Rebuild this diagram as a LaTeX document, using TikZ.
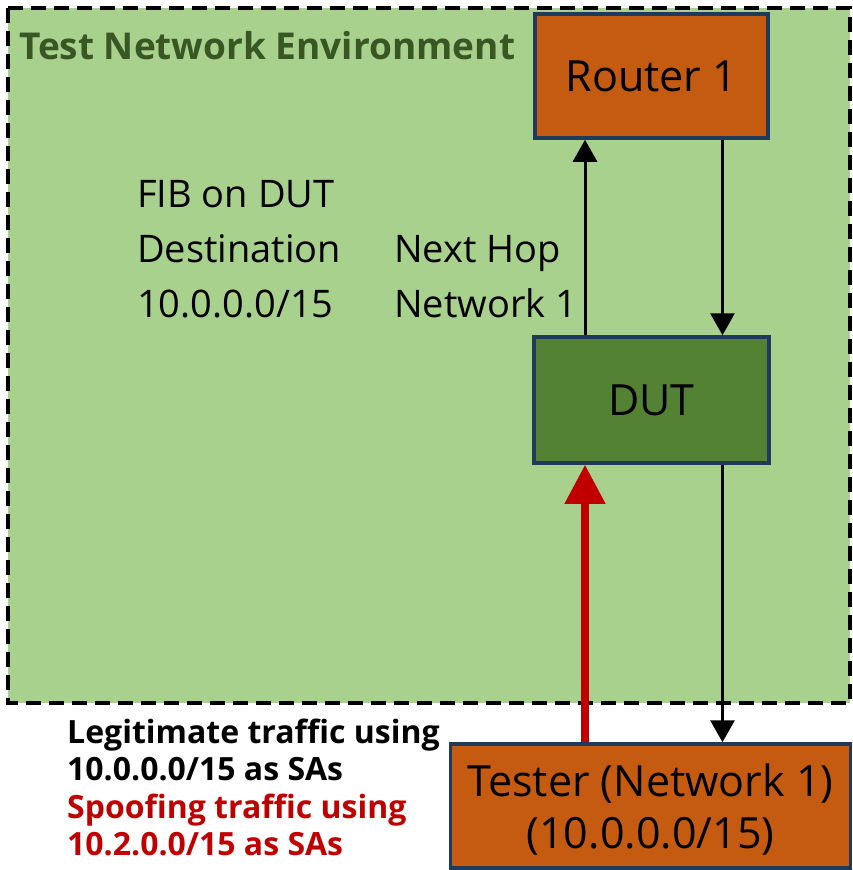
\documentclass[tikz,border=0pt]{standalone}
\usepackage{fontspec}
\setmainfont{Open Sans}
\usetikzlibrary{arrows.meta}
\definecolor{envgreen}{HTML}{A9D18E}
\definecolor{titlegreen}{HTML}{385723}
\definecolor{boxorange}{HTML}{C55A11}
\definecolor{dutgreen}{HTML}{548235}
\definecolor{boxborder}{HTML}{203A5C}
\definecolor{spoofred}{HTML}{C00000}
\tikzset{
  devbox/.style={draw=boxborder, line width=3.5pt, inner sep=0pt, align=center,
    font=\fontsize{43}{52}\selectfont},
  boxtext/.style={inner sep=0pt, align=center, font=\fontsize{43}{52}\selectfont},
  plain/.style={anchor=base west, inner sep=0pt, font=\fontsize{38}{42}\selectfont},
  legend/.style={anchor=base west, inner sep=0pt, font=\bfseries\fontsize{32}{36}\selectfont},
  blackarr/.style={line width=3pt, -{Triangle[width=24pt,length=22pt]}},
  redarr/.style={line width=7.5pt, draw=spoofred, -{Triangle[width=39pt,length=39pt]}},
}
\begin{document}
\begin{tikzpicture}[x=1pt,y=-1pt]
\useasboundingbox (0,0) rectangle (853,870);
\fill[white] (0,0) rectangle (853,870);
% environment
\draw[fill=envgreen, line width=4pt, dash pattern=on 15pt off 8pt] (8,8) rectangle (850,703);
\node[anchor=base west, inner sep=0pt, text=titlegreen, font=\bfseries\fontsize{37}{44}\selectfont] (title) at (19,59) {Test Network Environment};
% devices
\node[devbox, fill=boxorange, minimum width=233pt, minimum height=124pt] (router) at (651.5,76) {Router 1};
\node[devbox, fill=dutgreen, minimum width=235pt, minimum height=126pt] (dut) at (651.5,400) {DUT};
\node[devbox, fill=boxorange, minimum width=400pt, minimum height=124pt] (tester) at (650.5,806) {};
\node[boxtext] (testertext) at ([yshift=-4pt]tester.center) {Tester (Network 1)\\(10.0.0.0/15)};
% FIB
\node[plain] (fib) at (137,207) {FIB on DUT};
\node[plain] (dst) at (137,262) {Destination};
\node[plain] (nh) at (394,262) {Next Hop};
\node[plain] (pfx) at (137,317) {10.0.0.0/15};
\node[plain] (net) at (394,317) {Network 1};
% legend
\node[legend] (l1) at (67,743) {Legitimate traffic using};
\node[legend] (l2) at (67,780) {10.0.0.0/15 as SAs};
\node[legend, text=spoofred] (l3) at (67,818) {Spoofing traffic using};
\node[legend, text=spoofred] (l4) at (67,855) {10.2.0.0/15 as SAs};
% connectors
\draw[blackarr] ([xshift=-66.5pt]dut.north) -- ([xshift=-66.5pt]router.south);
\draw[blackarr] ([xshift=71pt]router.south) -- ([xshift=71pt]dut.north);
\draw[blackarr] ([xshift=71pt]dut.south) -- ([xshift=72pt]tester.north);
\draw[redarr] ([xshift=-65.5pt]tester.north) -- ([xshift=-66.5pt]dut.south);
\end{tikzpicture}
\end{document}
